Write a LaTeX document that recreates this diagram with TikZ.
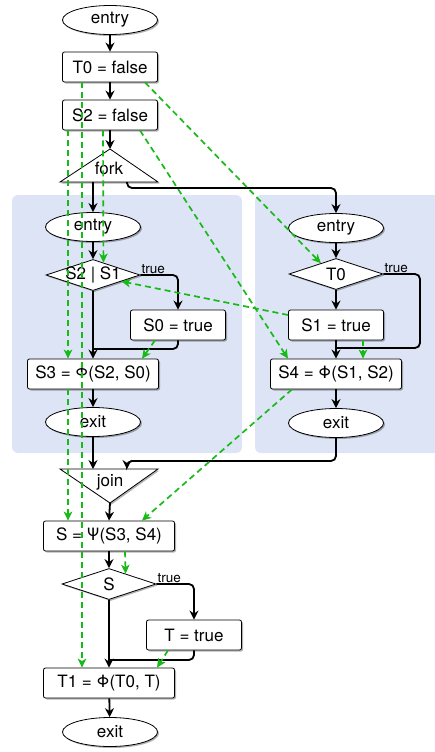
\documentclass[tikz,border=0pt]{standalone}
\usepackage{fontspec}
\setmainfont{TeX Gyre Heros}
\usetikzlibrary{arrows.meta,shapes.geometric,shadows,calc}
\definecolor{depgreen}{RGB}{24,186,24}
\definecolor{bgblue}{RGB}{220,228,245}
\begin{document}
\begin{tikzpicture}[x=1pt,y=-1pt,
  font=\fontsize{17}{20}\selectfont,
  shad/.style={drop shadow={shadow xshift=1.5pt,shadow yshift=-1.5pt,opacity=0.3,fill=black}},
  stmt/.style={draw,line width=0.8pt,rounded corners=2pt,fill=white,minimum width=95pt,minimum height=30pt,inner sep=1pt,shad},
  wide/.style={stmt,minimum width=131pt},
  term/.style={draw,ellipse,line width=0.8pt,fill=white,minimum width=95pt,minimum height=29pt,inner sep=0pt,shad},
  cond/.style={draw,diamond,line width=0.8pt,fill=white,minimum width=94pt,minimum height=31pt,inner sep=0pt,shad},
  tri/.style={draw,line width=0.8pt,fill=white,shad},
  lbl/.style={font=\fontsize{13.5}{15}\selectfont,inner sep=1pt,anchor=south west},
  flow/.style={line width=1.8pt,rounded corners=5pt,-{Stealth[length=9pt,width=9pt,inset=3pt]}},
  flowline/.style={line width=1.8pt,rounded corners=5pt},
  dep/.style={depgreen,line width=1.7pt,dash pattern=on 6pt off 4pt,-{Stealth[length=9pt,width=8.5pt,inset=2.5pt]}},
  bg/.style={fill=bgblue,rounded corners=6pt}
]
\clip (0,0) rectangle (435,752);
% backgrounds
\path[bg] (12,195) rectangle (242,453);
\path[bg] (255,195) rectangle (445,453);

% top column
\node[term] (e0) at (110,20) {entry};
\node[stmt] (t0f) at (110,67) {T0 = false};
\node[stmt] (s2f) at (110,115) {S2 = false};
\path[tri] (110,149) -- (158,182) -- (60,182) -- cycle;
\node (fork) at (109,168) {fork};
\coordinate (forkapex) at (110,149);
\coordinate (forkL) at (93,182);
\coordinate (forkR) at (127,182);
\coordinate (forkRb) at (127,188);

% left sub-graph
\node[term] (le) at (93,227) {entry};
\node[cond,label=center:{S2 | S1}] (d1) at (93,275) {};
\node[lbl] (d1t) at (d1.east) {true};
\node[stmt] (s0) at (178,325) {S0 = true};
\node[wide] (s3) at (93,374) {S3 = Φ(S2, S0)};
\node[term] (lx) at (93,422) {exit};
\coordinate (lmerge) at (93,349);

% right sub-graph
\node[term] (re) at (336,228) {entry};
\node[cond,label=center:{T0}] (d3) at (336,274) {};
\node[lbl] (d3t) at (d3.east) {true};
\node[stmt] (s1) at (336,325) {S1 = true};
\node[wide] (s4) at (336,374) {S4 = Φ(S1, S2)};
\node[term] (rx) at (336,423) {exit};
\coordinate (rloop) at (420,348);
\coordinate (rmerge) at (337,348);
\coordinate (rxb) at (336,461);

% bottom column
\path[tri] (60,469) -- (158,469) -- (110,503) -- cycle;
\node (join) at (110,482) {join};
\coordinate (joinL) at (93,469);
\coordinate (joinR) at (127,469);
\coordinate (joinapex) at (110,503);
\node[wide] (sp) at (109,536) {S = Ψ(S3, S4)};
\node[cond,label=center:{S}] (d2) at (109,584) {};
\node[lbl] (d2t) at (d2.east) {true};
\node[stmt] (t) at (194,635) {T = true};
\node[wide] (t1) at (109,683) {T1 = Φ(T0, T)};
\node[term] (x2) at (110,732) {exit};
\coordinate (bmerge) at (109,660);

% control flow
\draw[flow] (e0) -- (t0f);
\draw[flow] (t0f) -- (s2f);
\draw[flow] (s2f) -- (forkapex);
\draw[flow] (forkL) -- (le.north);
\draw[flow] (forkR) -- (forkRb) -| (re.north);
\draw[flow] (le) -- (d1);
\draw[flow] (d1.east) -| (s0.north);
\draw[flow] (d1.south) -- (s3.north);
\draw[flowline] (s0.south) |- (lmerge);
\draw[flow] (s3) -- (lx);
\draw[flow] (lx.south) -- (joinL);
\draw[flow] (re) -- (d3);
\draw[flow] (d3.south) -- (s1.north);
\draw[flowline] (d3.east) -| (rloop) -- (rmerge);
\draw[flow] (s1) -- (s4);
\draw[flow] (s4) -- (rx);
\draw[flow] (rx.south) -- (rxb) -| (joinR);
\draw[flow] (joinapex) -- (sp.north);
\draw[flow] (sp) -- (d2.north);
\draw[flow] (d2.east) -| (t.north);
\draw[flow] (d2.south) -- (t1.north);
\draw[flowline] (t.south) |- (bmerge);
\draw[flow] (t1) -- (x2);

% data dependencies
\draw[dep] ([xshift=-28pt]t0f.south) -- ([xshift=-27pt]t1.north);
\draw[dep] ([xshift=35pt]t0f.south) -- ($(d3.west)!0.68!(d3.north)$);
\draw[dep] ([xshift=-42pt]s2f.south) -- ([xshift=-25pt]s3.north);
\draw[dep] ([xshift=-7pt]s2f.south) -- ($(d1.north)!0.22!(d1.east)$);
\draw[dep] ([xshift=30pt]s2f.south) -- ([xshift=-48pt]s4.north);
\draw[dep] ([yshift=10pt]s1.west) -- ($(d1.east)!0.4!(d1.south)$);
\draw[dep] ([xshift=-23pt]s0.south) -- ([xshift=49pt]s3.north);
\draw[dep] ([xshift=27pt]s1.south) -- ([xshift=27pt]s4.north);
\draw[dep] ([xshift=-25pt]s3.south) -- ([xshift=-41pt]sp.north);
\draw[dep] ([xshift=-44pt]s4.south) -- ([xshift=33pt]sp.north);
\draw[dep] ([xshift=16pt]sp.south) -- ($(d2.north)!0.35!(d2.east)$);
\draw[dep] ([xshift=-26pt]t.south) -- ([xshift=48pt]t1.north);
\end{tikzpicture}
\end{document}
